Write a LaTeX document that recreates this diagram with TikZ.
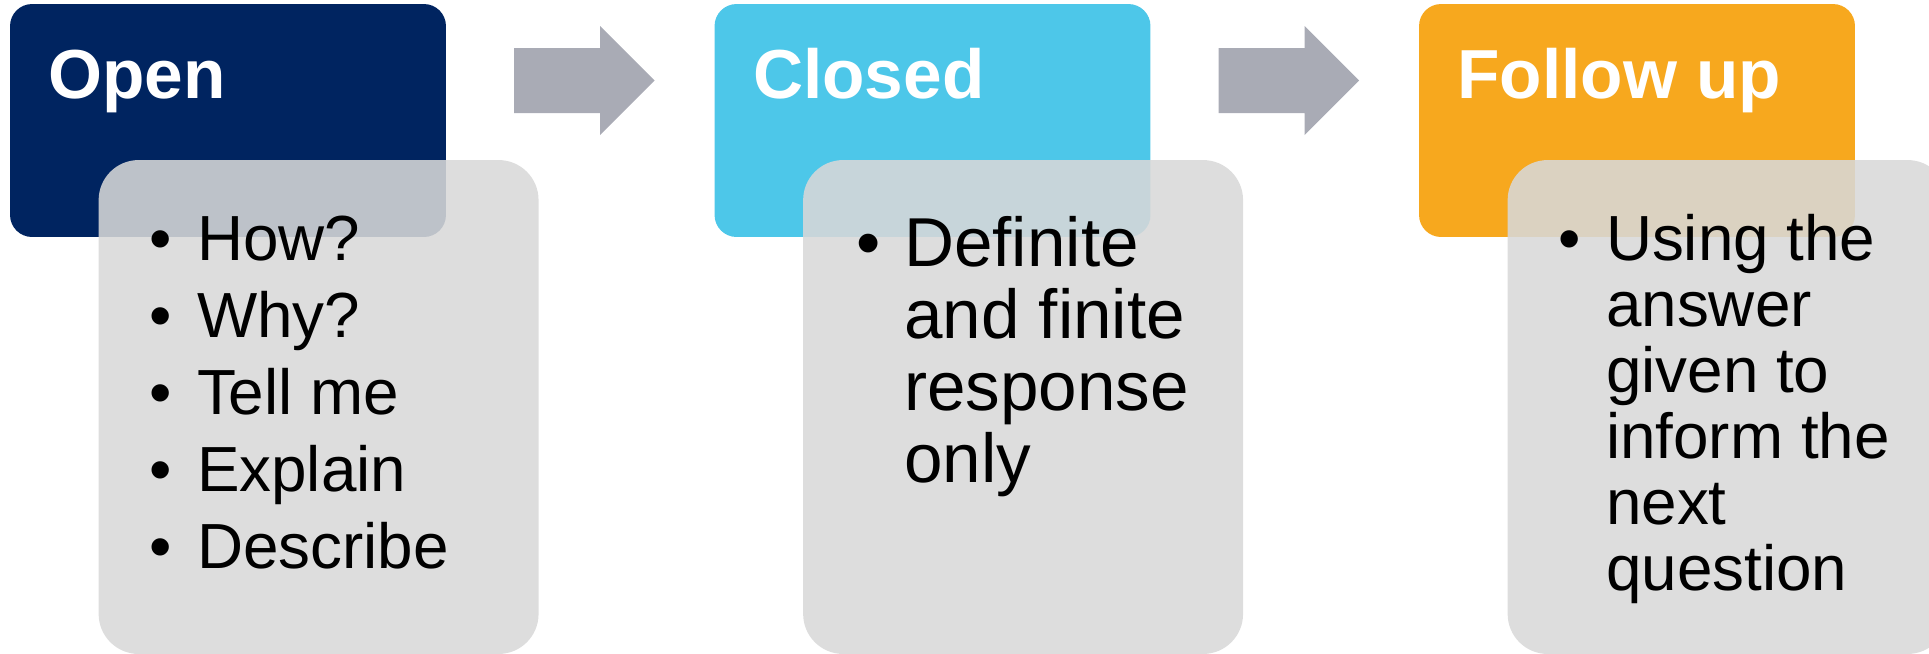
\documentclass[tikz,border=0pt]{standalone}
\usepackage{fontspec}
\setmainfont{Liberation Sans}
\definecolor{qnavy}{RGB}{0,36,96}
\definecolor{qcyan}{RGB}{77,199,233}
\definecolor{qorange}{RGB}{247,168,30}
\definecolor{qgrey}{RGB}{216,216,216}
\definecolor{qarrow}{RGB}{169,171,181}
\usetikzlibrary{calc}
\usetikzlibrary{positioning}
\newcommand{\bul}{\makebox[27pt][l]{\textbullet}}

\begin{document}
\begin{tikzpicture}[x=0.02cm, y=-0.02cm,
    header/.style={rounded corners=0.44cm, inner sep=0pt, minimum width=8.72cm, minimum height=4.66cm},
    card/.style={rounded corners=0.8cm, inner sep=0pt, fill=qgrey, fill opacity=0.88, minimum width=8.8cm, minimum height=9.88cm},
    title/.style={anchor=base west, inner sep=0pt, text=white, font=\bfseries\fontsize{39.5}{46}\selectfont},
    itemtxt/.style={anchor=base west, inner sep=0pt, font=\fontsize{36.3}{42}\selectfont},
    bigitem/.style={anchor=base west, inner sep=0pt, font=\fontsize{39.4}{45}\selectfont}]

  \useasboundingbox (0,0) rectangle (1929,653);

  % headers
  \node[header, fill=qnavy] (hdrA) at (228,120.5) {};
  \node[header, fill=qcyan] (hdrB) at (932.5,120.5) {};
  \node[header, fill=qorange] (hdrC) at (1637,120.5) {};

  \node[title] (tA) at ([shift={(38.5,95)}]hdrA.north west) {Open};
  \node[title] (tB) at ([shift={(38.5,95)}]hdrB.north west) {Closed};
  \node[title] (tC) at ([shift={(38.5,95)}]hdrC.north west) {Follow up};

  % arrows between the headers
  \coordinate (arrA) at (514,80.5);
  \coordinate (arrB) at (1218.5,80.5);
  \foreach \a in {arrA,arrB}
    \fill[qarrow] (\a) -- ++(0,-32.5) -- ++(86,0) -- ++(0,-22) -- ++(54.5,54.5)
      -- ++(-54.5,54.5) -- ++(0,-22) -- ++(-86,0) -- cycle;

  % grey cards
  \node[card] (cardA) at (318.6,407) {};
  \node[card] (cardB) at (1023.1,407) {};
  \node[card] (cardC) at (1727.6,407) {};

  \foreach \word [count=\k from 0] in {How?, Why?, Tell me, Explain, Describe}
    \node[itemtxt] (open\k) at ([shift={(51,{101+77*\k})}]cardA.north west) {\bul\word};

  \node[bigitem] (closed0) at ([shift={(53.6,107)}]cardB.north west) {\bul Definite};
  \foreach \word [count=\k] in {and finite, response, only}
    \node[bigitem] (closed\k) at ([shift={(101,{107+72*\k})}]cardB.north west) {\word};

  \node[itemtxt] (follow0) at ([shift={(51,101)}]cardC.north west) {\bul Using the};
  \foreach \word [count=\k] in {answer, given to, inform the, next, question}
    \node[itemtxt] (follow\k) at ([shift={(98.5,{101+66*\k})}]cardC.north west) {\word};
\end{tikzpicture}
\end{document}
